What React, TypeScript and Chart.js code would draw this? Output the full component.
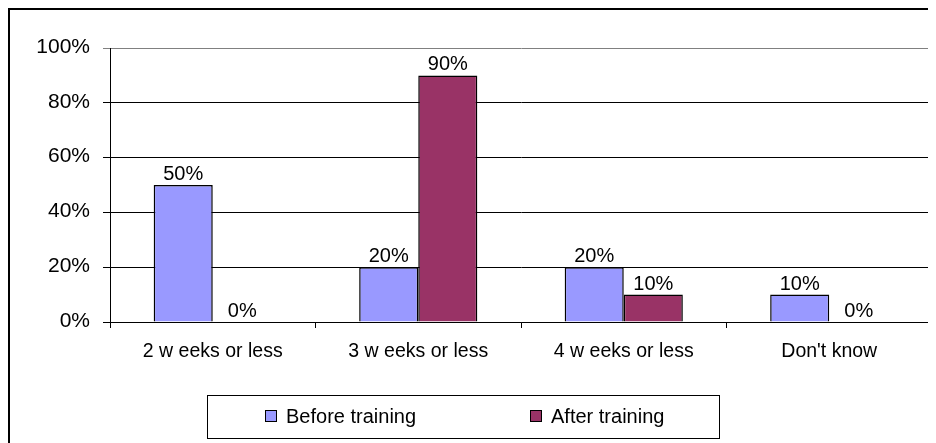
import React, { useEffect, useRef } from "react";
import { Chart, registerables } from "chart.js";

Chart.register(...registerables);

const categories = ["2 w eeks or less", "3 w eeks or less", "4 w eeks or less", "Don't know"];
const beforeTraining = [50, 20, 20, 10];
const afterTraining = [0, 90, 10, 0];
const seriesNames = ["Before training", "After training"];
const seriesColors = ["#9999FF", "#993366"];
const yTicks = [0, 20, 40, 60, 80, 100];

const FONT_FAMILY = '"Liberation Sans", Arial, Helvetica, sans-serif';
const TICK_SIZE = 21;
const CATEGORY_SIZE = 19.5;
const LABEL_SIZE = 20;

const W = 928;
const H = 435;

// Outer frame, right plot border, value labels and the boxed legend.
const decorations = {
  id: "decorations",
  beforeDraw(chart: any) {
    const ctx = chart.ctx;
    ctx.save();
    ctx.fillStyle = "#ffffff";
    ctx.fillRect(0, 0, chart.width, chart.height);
    ctx.fillStyle = "#000000";
    ctx.fillRect(0, 0, 2, chart.height);
    ctx.fillRect(0, 0, chart.width, 2);
    ctx.restore();
  },
  afterDatasetsDraw(chart: any) {
    const ctx = chart.ctx;
    const area = chart.chartArea;
    ctx.save();
    ctx.strokeStyle = "#808080";
    ctx.lineWidth = 2;
    ctx.beginPath();
    ctx.moveTo(area.right, area.top);
    ctx.lineTo(area.right, area.bottom);
    ctx.stroke();

    ctx.fillStyle = "#000000";
    ctx.font = `${LABEL_SIZE}px ${FONT_FAMILY}`;
    ctx.textAlign = "center";
    ctx.textBaseline = "alphabetic";
    chart.data.datasets.forEach((ds: any, di: number) => {
      const meta = chart.getDatasetMeta(di);
      meta.data.forEach((bar: any, i: number) => {
        const v = ds.data[i];
        ctx.fillText(`${v}%`, bar.x, bar.y - 5);
      });
    });

    // legend
    const lx = 199;
    const ly = 387;
    const lw = 512;
    const lh = 43;
    ctx.strokeStyle = "#000000";
    ctx.lineWidth = 1;
    ctx.strokeRect(lx + 0.5, ly + 0.5, lw, lh);
    const itemX = [257, 522];
    const cy = ly + 21;
    ctx.textAlign = "left";
    ctx.textBaseline = "middle";
    chart.data.datasets.forEach((ds: any, di: number) => {
      const x = itemX[di];
      ctx.fillStyle = ds.backgroundColor;
      ctx.fillRect(x, cy - 6, 12, 12);
      ctx.strokeStyle = "#000000";
      ctx.strokeRect(x + 0.5, cy - 6 + 0.5, 11, 11);
      ctx.fillStyle = "#000000";
      ctx.fillText(ds.label, x + 21, cy + 1);
    });
    ctx.restore();
  },
};

export default function App() {
  const canvasRef = useRef<HTMLCanvasElement | null>(null);

  useEffect(() => {
    const canvas = canvasRef.current;
    if (!canvas) return;
    const chart = new Chart(canvas, {
      type: "bar",
      data: {
        labels: categories,
        datasets: [
          {
            label: seriesNames[0],
            data: beforeTraining,
            backgroundColor: seriesColors[0],
            borderColor: "#000000",
            borderWidth: 1.5,
            barPercentage: 1,
            categoryPercentage: 0.575,
          },
          {
            label: seriesNames[1],
            data: afterTraining,
            backgroundColor: seriesColors[1],
            borderColor: "#000000",
            borderWidth: 1.5,
            barPercentage: 1,
            categoryPercentage: 0.575,
          },
        ],
      },
      options: {
        responsive: false,
        animation: false,
        layout: { padding: { top: 40, right: 4, left: 0, bottom: 0 } },
        plugins: {
          legend: { display: false },
          tooltip: { enabled: false },
        },
        scales: {
          x: {
            grid: {
              offset: true,
              drawOnChartArea: false,
              drawTicks: true,
              tickLength: 6,
              color: "#000000",
            },
            border: { display: true, color: "#000000", width: 1 },
            ticks: {
              color: "#000000",
              padding: 12,
              maxRotation: 0,
              autoSkip: false,
              font: { family: FONT_FAMILY, size: CATEGORY_SIZE },
            },
            afterFit(scale: any) {
              scale.height = 121;
            },
          },
          y: {
            min: 0,
            max: 100,
            afterBuildTicks(scale: any) {
              scale.ticks = yTicks.map((v) => ({ value: v }));
            },
            grid: {
              color: (c: any) => (c.tick && c.tick.value === 100 ? "#808080" : "#000000"),
              tickLength: 7,
              lineWidth: 1,
            },
            border: { display: true, color: "#000000", width: 1 },
            ticks: {
              color: "#000000",
              padding: 13,
              labelOffset: -1,
              font: { family: FONT_FAMILY, size: TICK_SIZE },
              callback: (v: any) => `${v}%`,
            },
            afterFit(scale: any) {
              scale.width = 102;
            },
          },
        },
      },
      plugins: [decorations],
    });
    return () => chart.destroy();
  }, []);

  return (
    <div style={{ width: W, height: H }}>
      <canvas ref={canvasRef} width={W} height={H} style={{ display: "block" }} />
    </div>
  );
}
